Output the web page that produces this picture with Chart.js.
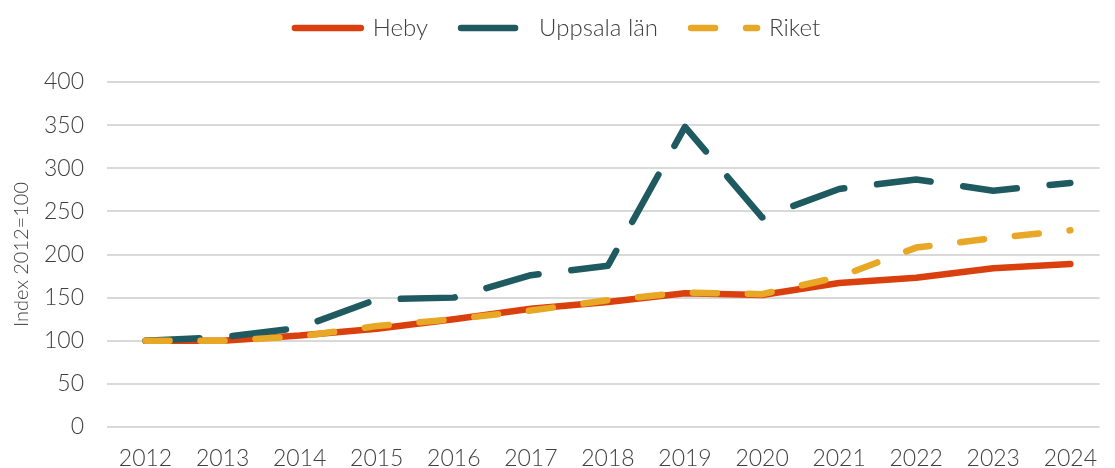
<!DOCTYPE html>
<html>
<head>
<meta charset="utf-8">
<script src="https://cdn.jsdelivr.net/npm/chart.js@4"></script>
<style>
  html, body { margin: 0; padding: 0; background: #fff; }
  #wrap { width: 1115px; height: 468px; }
</style>
</head>
<body>
<div id="wrap"><canvas id="index-chart"></canvas></div>
<script>
var years = [2012, 2013, 2014, 2015, 2016, 2017, 2018, 2019, 2020, 2021, 2022, 2023, 2024];
var heby = [100, 100, 106, 114, 125, 137, 145, 155, 153, 167, 173, 184, 189];
var uppsala = [100, 104, 115, 148, 150, 176, 187, 348, 243, 276, 287, 274, 283];
var riket = [100, 100, 105, 117, 125, 135, 147, 156, 154, 174, 208, 219, 228];
var yTicks = [0, 50, 100, 150, 200, 250, 300, 350, 400];

var font = 'Lato, "Open Sans", sans-serif';
var textColor = '#404040';

function points(values) {
  return years.map(function(year, i) {
    return {x: year, y: values[i]};
  });
}

// legend needs more room below it than its own padding gives
var legendGap = {
  id: 'legendGap',
  beforeInit: function(chart) {
    var fit = chart.legend.fit;
    chart.legend.fit = function() {
      fit.call(this);
      this.height += 32;
    };
  }
};

function legendLabels(chart) {
  return chart.data.datasets.map(function(ds, i) {
    return {
      text: ds.label,
      datasetIndex: i,
      fillStyle: ds.borderColor,
      strokeStyle: ds.borderColor,
      fontColor: textColor,
      lineWidth: ds.borderWidth,
      lineDash: ds.borderDash || [],
      lineCap: 'round',
      pointStyle: 'line',
      hidden: false
    };
  });
}

var ctx = document.getElementById('index-chart');
var chart = new Chart(ctx, {
  type: 'line',
  data: {
    datasets: [
      {
        label: 'Heby',
        data: points(heby),
        borderColor: '#D9400E',
        backgroundColor: '#D9400E',
        borderWidth: 6.5,
        borderCapStyle: 'round',
        borderJoinStyle: 'round',
        pointRadius: 0,
        order: 3
      },
      {
        label: 'Uppsala län',
        data: points(uppsala),
        borderColor: '#1E5A5F',
        backgroundColor: '#1E5A5F',
        borderWidth: 6.5,
        borderDash: [54, 33],
        borderCapStyle: 'round',
        borderJoinStyle: 'round',
        pointRadius: 0,
        order: 2
      },
      {
        label: 'Riket',
        data: points(riket),
        borderColor: '#E8A826',
        backgroundColor: '#E8A826',
        borderWidth: 6.5,
        borderDash: [24, 31],
        borderCapStyle: 'round',
        borderJoinStyle: 'round',
        pointRadius: 0,
        order: 1
      }
    ]
  },
  options: {
    responsive: true,
    maintainAspectRatio: false,
    animation: false,
    layout: {padding: {top: -17, left: 0, right: 0, bottom: 0}},
    plugins: {
      legend: {
        position: 'top',
        labels: {
          usePointStyle: true,
          pointStyle: 'line',
          pointStyleWidth: 66,
          padding: 33,
          color: textColor,
          font: {family: font, size: 24, weight: '300'},
          generateLabels: legendLabels,
          sort: function(a, b) { return a.datasetIndex - b.datasetIndex; }
        }
      },
      tooltip: {enabled: false}
    },
    scales: {
      x: {
        type: 'linear',
        min: 2011.5,
        max: 2024.38,
        border: {display: false},
        grid: {display: false, drawTicks: false},
        afterBuildTicks: function(axis) {
          axis.ticks = years.map(function(y) { return {value: y}; });
        },
        afterFit: function(axis) { axis.height = 41; },
        ticks: {
          padding: 18,
          color: textColor,
          font: {family: font, size: 23, weight: '300'},
          callback: function(v) { return String(v); }
        }
      },
      y: {
        min: 0,
        max: 400,
        border: {display: false},
        grid: {color: '#D9D9D9', lineWidth: 2, drawTicks: false},
        afterBuildTicks: function(axis) {
          axis.ticks = yTicks.map(function(v) { return {value: v}; });
        },
        afterFit: function(axis) { axis.width = 107; },
        ticks: {
          padding: 23,
          color: textColor,
          font: {family: font, size: 23, weight: '300'}
        },
        title: {
          display: true,
          text: 'Index 2012=100',
          color: textColor,
          padding: {top: 10, bottom: 0},
          font: {family: font, size: 20, weight: '300'}
        }
      }
    }
  },
  plugins: [legendGap]
});
</script>
</body>
</html>
